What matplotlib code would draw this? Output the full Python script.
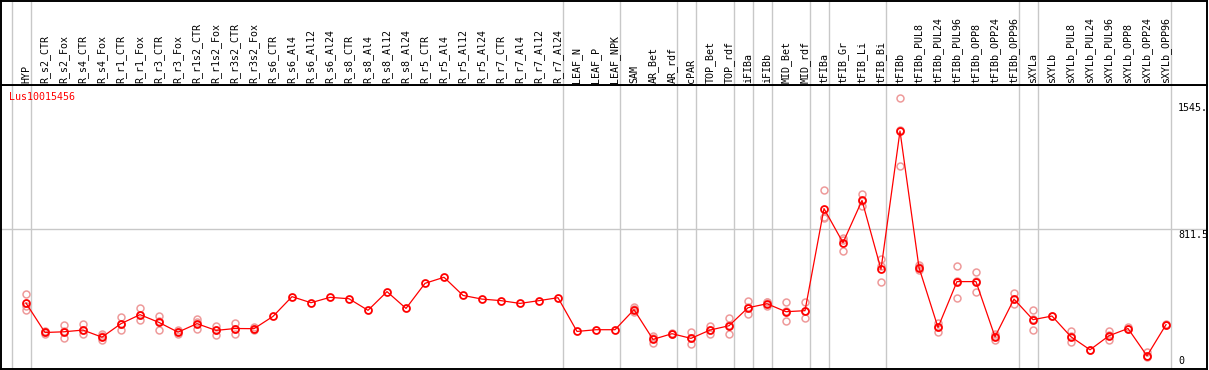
import matplotlib
matplotlib.use("Agg")
import matplotlib.pyplot as plt

# categories (one per sample)
categorias = [
    "HYP", "R_s2_CTR", "R_s2_Fox", "R_s4_CTR", "R_s4_Fox", "R_r1_CTR", "R_r1_Fox",
    "R_r3_CTR", "R_r3_Fox", "R_r1s2_CTR", "R_r1s2_Fox", "R_r3s2_CTR", "R_r3s2_Fox",
    "R_s6_CTR", "R_s6_Al4", "R_s6_Al12", "R_s6_Al24", "R_s8_CTR", "R_s8_Al4",
    "R_s8_Al12", "R_s8_Al24", "R_r5_CTR", "R_r5_Al4", "R_r5_Al12", "R_r5_Al24",
    "R_r7_CTR", "R_r7_Al4", "R_r7_Al12", "R_r7_Al24", "LEAF_N", "LEAF_P", "LEAF_NPK",
    "SAM", "AR_Bet", "AR_rdf", "cPAR", "TOP_Bet", "TOP_rdf", "iFIBa", "iFIBb",
    "MID_Bet", "MID_rdf", "tFIBa", "tFIB_Gr", "tFIB_Li", "tFIB_Bi", "tFIBb",
    "tFIBb_PUL8", "tFIBb_PUL24", "tFIBb_PUL96", "tFIBb_OPP8", "tFIBb_OPP24",
    "tFIBb_OPP96", "sXYLa", "sXYLb", "sXYLb_PUL8", "sXYLb_PUL24", "sXYLb_PUL96",
    "sXYLb_OPP8", "sXYLb_OPP24", "sXYLb_OPP96",
]

# mean expression
medias = [
    381, 211, 215, 225, 184, 262, 314, 269, 213, 262, 223, 234, 233,
    304, 418, 383, 414, 406, 339, 447, 350, 495, 530, 425, 404,
    395, 379, 395, 412, 217, 227, 227,
    343, 171, 204, 177, 225, 250, 354, 377, 331, 337,
    927, 730, 974, 576, 1375, 586, 240, 505, 505, 186, 404,
    285, 306, 186, 111, 192, 234, 76, 256,
]

# replicates (empty where only the mean is shown)
replicatas = [
    [435, 362, 343], [205, 211, 217], [254, 181, 217], [258, 204, 223], [200, 165, 188],
    [300, 227, 258], [354, 281, 310], [304, 227, 275], [227, 200, 211], [287, 230, 269],
    [246, 196, 223], [265, 204, 234], [234, 223, 240],
    [], [], [], [], [], [], [], [], [], [], [], [], [], [], [], [], [], [], [],
    [358, 327, 344], [188, 148, 177], [210, 200], [213, 142, 177], [248, 201, 225],
    [296, 204, 252], [391, 319, 356], [387, 362, 385], [385, 279, 333], [385, 296, 333],
    [1033, 879, 871], [759, 684, 744], [1014, 941, 969], [636, 501, 593],
    [1564, 1174, 1380], [599, 570, 587], [265, 213, 240], [597, 412, 506],
    [563, 447, 506], [204, 165, 188], [439, 373, 402],
    [343, 227, 287], [306], [217, 155, 188], [111], [219, 165, 194], [242, 234],
    [96, 68, 78], [262, 256],
]

# size of each tissue group (separator drawn after each)
grupos = [1, 28, 3, 3, 1, 2, 1, 1, 2, 1, 3, 7, 1, 7]

nome_gene = "Lus10015456"
rotulos_eixo = [(1545, "1545."), (811.5, "811.5"), (0, "0")]

W, H = 1209, 370
PASSO = 19.0
X0 = 26.0


def px_para_idx(px):
    return (px - X0) / PASSO


fig = plt.figure(figsize=(W / 100, H / 100), dpi=100)
fonte = dict(family="DejaVu Sans Mono", fontsize=7.2)

topo_px, base_px = 85, 369
ax = fig.add_axes([1 / W, (H - base_px) / H, 1206 / W, (base_px - topo_px) / H])
cab = fig.add_axes([1 / W, (H - topo_px) / H, 1206 / W, (topo_px - 0.5) / H])

xlim = (px_para_idx(1), px_para_idx(1207))
for a in (ax, cab):
    a.set_xlim(*xlim)
    a.set_xticks([])
    a.set_yticks([])
    for s in a.spines.values():
        s.set_color("black")
        s.set_linewidth(1.4)

ax.set_ylim(0, 1641)
cab.set_ylim(0, topo_px)

# group separators
separadores = [-1]
acum = -1
for g in grupos:
    acum += g
    separadores.append(acum)
for s in separadores:
    for a in (ax, cab):
        a.axvline(s + 0.25, color="#c8c8c8", linewidth=1.0, zorder=1)

ax.axhline(811.5, color="#c8c8c8", linewidth=1.0, zorder=1)

# sample labels
for i, nome in enumerate(categorias):
    cab.text(i, 2, nome, rotation=90, ha="center", va="bottom", color="black", **fonte)

xs = list(range(len(categorias)))
for i, reps in enumerate(replicatas):
    if reps:
        ax.plot([i] * len(reps), reps, linestyle="none", marker="o", markersize=5,
                markerfacecolor="none", markeredgecolor="#ee9a9a", markeredgewidth=1.1,
                zorder=2)

ax.plot(xs, medias, color="red", linewidth=0.9, marker="o", markersize=5,
        markerfacecolor="none", markeredgecolor="red", markeredgewidth=1.3, zorder=3)

# value labels on the right
x_rot = px_para_idx(1178)
for v, txt in rotulos_eixo:
    if v == 0:
        ax.annotate(txt, (x_rot, v), xytext=(0, 2.5), textcoords="offset points",
                    ha="left", va="bottom", color="black", annotation_clip=False, **fonte)
    else:
        ax.annotate(txt, (x_rot, v), xytext=(0, -1), textcoords="offset points",
                    ha="left", va="top", color="black", annotation_clip=False, **fonte)

fig.text(9.5 / W, (H - 97) / H, nome_gene, ha="left", va="center", color="red", **fonte)

fig.savefig("out.png", dpi=100)
